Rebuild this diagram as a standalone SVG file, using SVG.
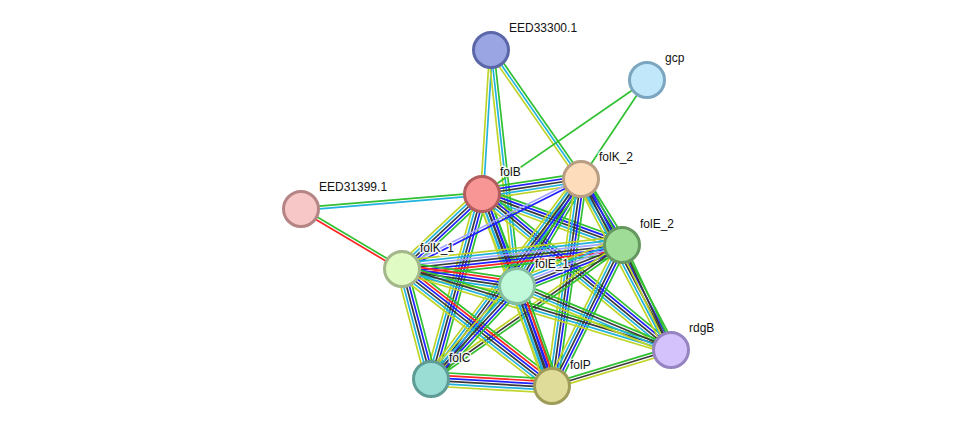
<svg xmlns="http://www.w3.org/2000/svg" xmlns:xlink="http://www.w3.org/1999/xlink" width="976" height="432" viewBox="0 0 976 432">
<style>
.g{stroke:#30c030}.r{stroke:#ff2424}.b{stroke:#2020ff}.k{stroke:#3a3a3a}.c{stroke:#22b2de}.y{stroke:#c0d428}.l{stroke:#a4a4ff}
#defsb line{stroke-width:1.7;fill:none}
.n{stroke-width:3}
.t{font-family:"Liberation Sans",Arial,sans-serif;font-size:12px;fill:#111;stroke:#fff;stroke-width:3;stroke-opacity:0.85;paint-order:stroke;stroke-linejoin:round}
</style>
<defs>
<g id="defsb">
<g id="s_cy"><line class="c" x1="0" y1="-1.4" x2="1" y2="-1.4"/><line class="y" x1="0" y1="1.4" x2="1" y2="1.4"/></g>
<g id="s_gcy"><line class="g" x1="0" y1="-2.8" x2="1" y2="-2.8"/><line class="c" x1="0" y1="0" x2="1" y2="0"/><line class="y" x1="0" y1="2.8" x2="1" y2="2.8"/></g>
<g id="s_g"><line class="g" x1="0" y1="0" x2="1" y2="0"/></g>
<g id="s_gc"><line class="g" x1="0" y1="-1.4" x2="1" y2="-1.4"/><line class="c" x1="0" y1="1.4" x2="1" y2="1.4"/></g>
<g id="s_gr"><line class="g" x1="0" y1="-1.4" x2="1" y2="-1.4"/><line class="r" x1="0" y1="1.4" x2="1" y2="1.4"/></g>
<g id="s_bl"><line class="b" x1="0" y1="-1.4" x2="1" y2="-1.4"/><line class="l" x1="0" y1="1.4" x2="1" y2="1.4"/></g>
<g id="s5"><line class="g" x1="0" y1="-5.6" x2="1" y2="-5.6"/><line class="b" x1="0" y1="-2.8" x2="1" y2="-2.8"/><line class="k" x1="0" y1="0" x2="1" y2="0"/><line class="c" x1="0" y1="2.8" x2="1" y2="2.8"/><line class="y" x1="0" y1="5.6" x2="1" y2="5.6"/></g>
<g id="s7"><line class="g" x1="0" y1="-8.4" x2="1" y2="-8.4"/><line class="r" x1="0" y1="-5.6" x2="1" y2="-5.6"/><line class="b" x1="0" y1="-2.8" x2="1" y2="-2.8"/><line class="k" x1="0" y1="0" x2="1" y2="0"/><line class="l" x1="0" y1="2.8" x2="1" y2="2.8"/><line class="c" x1="0" y1="5.6" x2="1" y2="5.6"/><line class="y" x1="0" y1="8.4" x2="1" y2="8.4"/></g>
<g id="s6l"><line class="g" x1="0" y1="-7" x2="1" y2="-7"/><line class="b" x1="0" y1="-4.2" x2="1" y2="-4.2"/><line class="k" x1="0" y1="-1.4" x2="1" y2="-1.4"/><line class="l" x1="0" y1="1.4" x2="1" y2="1.4"/><line class="c" x1="0" y1="4.2" x2="1" y2="4.2"/><line class="y" x1="0" y1="7" x2="1" y2="7"/></g>
<g id="s6r"><line class="g" x1="0" y1="-7" x2="1" y2="-7"/><line class="r" x1="0" y1="-4.2" x2="1" y2="-4.2"/><line class="b" x1="0" y1="-1.4" x2="1" y2="-1.4"/><line class="k" x1="0" y1="1.4" x2="1" y2="1.4"/><line class="c" x1="0" y1="4.2" x2="1" y2="4.2"/><line class="y" x1="0" y1="7" x2="1" y2="7"/></g>
<g id="s_gky"><line class="g" x1="0" y1="-2.8" x2="1" y2="-2.8"/><line class="k" x1="0" y1="0" x2="1" y2="0"/><line class="y" x1="0" y1="2.8" x2="1" y2="2.8"/></g>
<g id="s_gkcy"><line class="g" x1="0" y1="-4.2" x2="1" y2="-4.2"/><line class="k" x1="0" y1="-1.4" x2="1" y2="-1.4"/><line class="c" x1="0" y1="1.4" x2="1" y2="1.4"/><line class="y" x1="0" y1="4.2" x2="1" y2="4.2"/></g>
</g>
</defs>
<rect width="976" height="432" fill="#fff"/>
<g id="edges">
<use href="#s_cy" transform="translate(491,50) rotate(93.58) scale(144.3,1)"/>
<use href="#s_gcy" transform="translate(491,50) rotate(83.71) scale(237.4,1)"/>
<use href="#s_gcy" transform="translate(491,50) rotate(55.10) scale(157.3,1)"/>
<use href="#s_g" transform="translate(647,80) rotate(145.36) scale(200.6,1)"/>
<use href="#s_g" transform="translate(647,80) rotate(123.69) scale(119,1)"/>
<use href="#s_gc" transform="translate(301,209) rotate(-4.74) scale(181.6,1)"/>
<use href="#s_gr" transform="translate(301,209) rotate(30.71) scale(117.5,1)"/>
<use href="#s5" transform="translate(482,194) rotate(-8.62) scale(100.1,1)"/>
<use href="#s5" transform="translate(482,194) rotate(20.02) scale(149,1)"/>
<use href="#s5" transform="translate(482,194) rotate(136.85) scale(109.7,1)"/>
<use href="#s5" transform="translate(482,194) rotate(69.17) scale(98.4,1)"/>
<use href="#s5" transform="translate(482,194) rotate(105.41) scale(191.9,1)"/>
<use href="#s5" transform="translate(482,194) rotate(69.97) scale(204.4,1)"/>
<use href="#s5" transform="translate(482,194) rotate(39.54) scale(245.1,1)"/>
<use href="#s5" transform="translate(581,179) rotate(58.15) scale(77.7,1)"/>
<use href="#s_bl" transform="translate(581,179) rotate(153.30) scale(200.4,1)"/>
<use href="#s5" transform="translate(581,179) rotate(120.88) scale(124.7,1)"/>
<use href="#s5" transform="translate(581,179) rotate(126.87) scale(250,1)"/>
<use href="#s5" transform="translate(581,179) rotate(97.97) scale(209,1)"/>
<use href="#s5" transform="translate(581,179) rotate(62.24) scale(193.2,1)"/>
<use href="#s7" transform="translate(622,245) rotate(173.77) scale(221.3,1)"/>
<use href="#s6l" transform="translate(622,245) rotate(158.67) scale(112.7,1)"/>
<use href="#s_gky" transform="translate(622,245) rotate(144.95) scale(233.3,1)"/>
<use href="#s5" transform="translate(622,245) rotate(116.40) scale(157.4,1)"/>
<use href="#s_gky" transform="translate(622,245) rotate(64.98) scale(115.9,1)"/>
<use href="#s6r" transform="translate(402,269) rotate(8.41) scale(116.2,1)"/>
<use href="#s5" transform="translate(402,269) rotate(75.23) scale(113.8,1)"/>
<use href="#s6r" transform="translate(402,269) rotate(37.95) scale(190.2,1)"/>
<use href="#s_gkcy" transform="translate(402,269) rotate(16.76) scale(280.9,1)"/>
<use href="#s5" transform="translate(517,286) rotate(132.76) scale(126.7,1)"/>
<use href="#s6r" transform="translate(517,286) rotate(70.71) scale(105.9,1)"/>
<use href="#s_gkcy" transform="translate(517,286) rotate(22.57) scale(166.8,1)"/>
<use href="#s6r" transform="translate(431,379) rotate(3.31) scale(121.2,1)"/>
<use href="#s_gky" transform="translate(552,386) rotate(-16.83) scale(124.3,1)"/>
</g>
<g id="EED33300.1"><circle class="n" cx="491" cy="50" r="17.5" fill="#9aa5e3" stroke="#5b67a8"/><text class="t" x="509" y="32">EED33300.1</text></g>
<g id="gcp"><circle class="n" cx="647" cy="80" r="17.5" fill="#c1e7fb" stroke="#7ba6bf"/><text class="t" x="665" y="62">gcp</text></g>
<g id="folB"><circle class="n" cx="482" cy="194" r="17.5" fill="#f89595" stroke="#b25e5e"/><text class="t" x="500" y="176">folB</text></g>
<g id="folK_2"><circle class="n" cx="581" cy="179" r="17.5" fill="#fddcbc" stroke="#b99e83"/><text class="t" x="599" y="161">folK_2</text></g>
<g id="EED31399.1"><circle class="n" cx="301" cy="209" r="17.5" fill="#f7c7c7" stroke="#b58585"/><text class="t" x="319" y="191">EED31399.1</text></g>
<g id="folE_2"><circle class="n" cx="622" cy="245" r="17.5" fill="#9edc98" stroke="#65985f"/><text class="t" x="640" y="228">folE_2</text></g>
<g id="folK_1"><circle class="n" cx="402" cy="269" r="17.5" fill="#e0fbc4" stroke="#a3b78b"/><text class="t" x="420" y="252">folK_1</text></g>
<g id="folE_1"><circle class="n" cx="517" cy="286" r="17.5" fill="#c0f9da" stroke="#86bea0"/><text class="t" x="535" y="268">folE_1</text></g>
<g id="rdgB"><circle class="n" cx="671" cy="350" r="17.5" fill="#d3c2fb" stroke="#9683c2"/><text class="t" x="689" y="332">rdgB</text></g>
<g id="folC"><circle class="n" cx="431" cy="379" r="17.5" fill="#99ddd5" stroke="#5e9c95"/><text class="t" x="449" y="362">folC</text></g>
<g id="folP"><circle class="n" cx="552" cy="386" r="17.5" fill="#dfdb98" stroke="#9f9b59"/><text class="t" x="570" y="369">folP</text></g>
</svg>
